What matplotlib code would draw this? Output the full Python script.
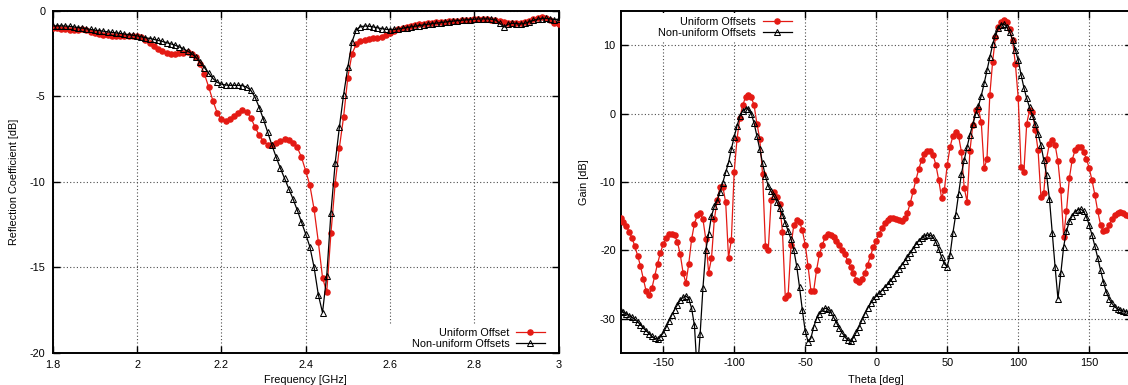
import numpy as np
import matplotlib
matplotlib.use('Agg')
import matplotlib.pyplot as plt
from matplotlib.patches import Rectangle

plt.rcParams['font.family'] = ['Liberation Sans', 'DejaVu Sans']
plt.rcParams['font.size'] = 7.8
plt.rcParams['axes.unicode_minus'] = False  # gnuplot 처럼 하이픈 마이너스

# 반사계수 데이터 (1.8 ~ 3.0 GHz, 0.01 간격)
freq = np.round(np.arange(1.80, 3.0001, 0.01), 2)
s11_uniform = [
    -1.00, -1.02, -1.05, -1.07, -1.10, -1.12, -1.10, -1.08, -1.12, -1.20,
    -1.28, -1.35, -1.40, -1.43, -1.45, -1.46, -1.46, -1.46, -1.45, -1.45,
    -1.47, -1.55, -1.68, -1.85, -2.03, -2.20, -2.34, -2.44, -2.49, -2.50,
    -2.48, -2.44, -2.42, -2.50, -2.72, -3.10, -3.70, -4.45, -5.25, -5.95,
    -6.35, -6.45, -6.35, -6.15, -5.95, -5.82, -5.90, -6.25, -6.80, -7.28,
    -7.62, -7.82, -7.85, -7.75, -7.60, -7.50, -7.55, -7.70, -7.98, -8.55,
    -9.35, -10.20, -11.60, -13.50, -15.60, -16.45, -13.00, -10.10, -8.00, -6.20,
    -3.90, -2.50, -1.95, -1.78, -1.70, -1.65, -1.60, -1.56, -1.50, -1.40,
    -1.28, -1.17, -1.08, -1.00, -0.94, -0.89, -0.84, -0.79, -0.75, -0.72,
    -0.69, -0.66, -0.64, -0.62, -0.60, -0.58, -0.56, -0.54, -0.52, -0.50,
    -0.48, -0.47, -0.47, -0.48, -0.50, -0.53, -0.58, -0.64, -0.68, -0.70,
    -0.72, -0.70, -0.64, -0.56, -0.48, -0.40, -0.37, -0.40, -0.52, -0.68,
    -0.76]
s11_nonuniform = [
    -0.88, -0.87, -0.87, -0.88, -0.90, -0.93, -0.97, -1.00, -1.04, -1.08,
    -1.12, -1.15, -1.18, -1.22, -1.25, -1.28, -1.31, -1.35, -1.38, -1.42,
    -1.46, -1.51, -1.56, -1.61, -1.66, -1.72, -1.78, -1.85, -1.92, -2.00,
    -2.10, -2.22, -2.35, -2.50, -2.72, -3.00, -3.32, -3.65, -3.95, -4.17,
    -4.28, -4.33, -4.35, -4.35, -4.35, -4.37, -4.45, -4.65, -5.05, -5.65,
    -6.35, -7.10, -7.85, -8.55, -9.20, -9.80, -10.40, -11.00, -11.65, -12.35,
    -13.05, -13.80, -15.00, -16.60, -17.65, -15.50, -11.80, -8.90, -6.80, -4.90,
    -3.30, -1.80, -1.10, -0.92, -0.88, -0.89, -0.93, -0.98, -1.03, -1.07,
    -1.09, -1.08, -1.05, -1.01, -0.97, -0.93, -0.89, -0.85, -0.81, -0.78,
    -0.74, -0.71, -0.68, -0.65, -0.62, -0.59, -0.56, -0.54, -0.52, -0.50,
    -0.48, -0.47, -0.46, -0.46, -0.48, -0.52, -0.70, -0.95, -0.78, -0.72,
    -0.74, -0.76, -0.72, -0.64, -0.55, -0.48, -0.44, -0.43, -0.46, -0.50,
    -0.48]

# 방사 패턴 데이터 (-180 ~ 180 deg, 2도 간격)
theta = np.arange(-180, 181, 2)
gain_uniform = [
    -15.3, -15.9, -16.5, -17.3, -18.2, -19.4, -20.8, -22.3, -24.2, -26.0,
    -26.6, -25.6, -23.8, -22.0, -20.4, -19.1, -18.2, -17.7, -17.6, -17.8,
    -18.8, -20.6, -23.3, -24.8, -22.0, -18.4, -16.1, -14.9, -14.6, -15.5,
    -18.4, -23.3, -21.2, -15.5, -12.7, -10.8, -10.7, -13.0, -21.1, -18.5,
    -8.5, -3.7, -0.6, 1.2, 2.4, 2.7, 2.4, 1.2, -1.5, -3.7,
    -8.9, -19.4, -19.9, -12.7, -11.5, -12.2, -13.3, -17.3, -27.0, -26.5,
    -19.3, -16.3, -15.6, -15.9, -17.1, -19.2, -22.3, -25.9, -25.9, -22.9,
    -20.6, -19.3, -18.1, -17.7, -17.8, -18.1, -18.6, -19.3, -20.0, -20.6,
    -21.6, -22.5, -23.4, -24.3, -24.6, -24.2, -23.3, -22.1, -20.8, -19.6,
    -18.6, -17.6, -16.8, -16.0, -15.6, -15.3, -15.3, -15.4, -15.6, -15.7,
    -15.3, -14.5, -13.1, -11.4, -9.7, -8.1, -6.8, -5.9, -5.5, -5.5,
    -6.0, -7.5, -9.7, -12.3, -11.2, -7.6, -4.9, -3.3, -2.7, -3.3,
    -5.6, -10.9, -12.9, -5.5, -1.7, 0.5, 0.7, -1.3, -8.0, -6.7,
    2.7, 7.6, 11.2, 12.7, 13.4, 13.7, 13.4, 12.4, 10.7, 7.3,
    2.3, -7.8, -8.5, -1.5, 0.5, 0.2, -2.4, -5.4, -12.2, -11.6,
    -6.6, -4.4, -3.9, -4.6, -7.0, -11.2, -18.0, -14.3, -9.5, -6.8,
    -5.4, -4.9, -4.9, -5.6, -6.6, -8.0, -9.8, -11.9, -14.3, -16.3,
    -17.2, -17.0, -16.3, -15.5, -14.9, -14.5, -14.4, -14.5, -14.8, -15.0,
    -15.2]
gain_nonuniform = [
    -28.9, -29.1, -29.3, -29.6, -29.8, -30.1, -30.5, -30.9, -31.4, -31.8,
    -32.2, -32.6, -32.9, -33.0, -32.7, -32.1, -31.3, -30.4, -29.5, -28.7,
    -28.0, -27.3, -26.9, -26.7, -27.1, -28.5, -31.0, -38.0, -32.3, -25.5,
    -20.0, -17.6, -15.0, -13.6, -12.8, -11.5, -10.1, -8.6, -7.2, -5.2,
    -3.4, -1.8, -0.4, 0.4, 0.7, 0.7, 0.0, -1.4, -3.3, -5.2,
    -7.3, -9.2, -10.6, -11.4, -12.1, -12.9, -13.8, -14.8, -16.0, -17.2,
    -18.4, -20.0, -22.3, -25.4, -28.8, -31.8, -33.4, -32.9, -31.2, -30.0,
    -29.3, -28.8, -28.5, -28.6, -29.1, -29.8, -30.6, -31.4, -32.1, -32.7,
    -33.2, -33.3, -32.8, -32.0, -31.2, -30.2, -29.3, -28.5, -27.8, -27.2,
    -26.7, -26.3, -25.9, -25.4, -25.0, -24.5, -24.0, -23.4, -22.8, -22.2,
    -21.6, -21.0, -20.4, -19.8, -19.1, -18.6, -18.2, -17.9, -17.8, -17.8,
    -18.1, -18.8, -19.8, -21.0, -22.0, -22.4, -20.7, -17.5, -14.8, -11.8,
    -8.8, -6.8, -4.9, -3.1, -1.6, -0.1, 1.1, 2.6, 4.4, 6.3,
    8.2, 10.1, 11.5, 12.5, 13.0, 13.1, 12.6, 11.9, 10.8, 9.3,
    7.8, 5.7, 3.8, 2.2, 0.9, -0.3, -1.5, -3.0, -4.6, -6.8,
    -9.0, -12.5, -17.5, -22.5, -27.1, -23.4, -19.5, -17.2, -15.8, -15.0,
    -14.4, -14.1, -14.0, -14.3, -15.1, -16.3, -17.8, -19.4, -21.1, -22.9,
    -24.6, -26.1, -27.1, -27.8, -28.3, -28.6, -28.8, -28.9, -29.0, -29.1,
    -29.2]

RED = '#e41a14'
W, H = 1128, 385


def style_axes(ax, pad):
    # gnuplot 스타일: 안쪽 눈금, 점선 그리드, 굵은 테두리
    ax.set_axisbelow(True)
    ax.grid(True, color='0.3', linestyle=(0, (1, 2)), linewidth=0.8)
    ax.tick_params(direction='in', length=5, width=1, top=True, right=True,
                   pad=pad, labelsize=7.8, colors='black')
    for sp in ax.spines.values():
        sp.set_linewidth(1.4)


fig = plt.figure(figsize=(W / 100, H / 100), dpi=100)

# 1. 반사계수 그래프
ax1 = fig.add_axes([52.7 / W, 32.3 / H, 505.9 / W, 341.7 / H])
style_axes(ax1, 5.2)
ax1.add_patch(Rectangle((385 / W, 14 / H), 165 / W, 47 / H, transform=fig.transFigure,
                        facecolor='white', edgecolor='none', zorder=1))
ax1.plot(freq, s11_uniform, color=RED, lw=0.9, marker='o', ms=3.7, mec=RED, mfc=RED,
         label='Uniform Offset', zorder=3)
ax1.plot(freq, s11_nonuniform, color='black', lw=0.9, marker='^', ms=4.2, mfc='none',
         mec='black', mew=0.75, label='Non-uniform Offsets', zorder=4)
ax1.set_xlim(1.8, 3.0)
ax1.set_ylim(-20, 0)
ax1.set_xticks([1.8, 2.0, 2.2, 2.4, 2.6, 2.8, 3.0])
ax1.set_xticklabels(['1.8', '2', '2.2', '2.4', '2.6', '2.8', '3'])
ax1.set_yticks([0, -5, -10, -15, -20])
ax1.set_yticklabels(['0', '-5', '-10', '-15', '-20'])
ax1.set_xlabel('Frequency [GHz]')
ax1.set_ylabel('Reflection Coefficient [dB]')
ax1.xaxis.set_label_coords(0.5, -0.064)
ax1.yaxis.set_label_coords(-0.067, 0.5)
ax1.legend(loc='upper right', bbox_to_anchor=(545 / W, 1 - 328 / H),
           bbox_transform=fig.transFigure, frameon=False, markerfirst=False,
           handlelength=2.7, handletextpad=0.6, labelspacing=0.05,
           borderpad=0, borderaxespad=0, fontsize=7.8)

# 2. 방사 패턴 그래프
ax2 = fig.add_axes([620.6 / W, 32.3 / H, 511.2 / W, 341.7 / H])
style_axes(ax2, 3.5)
ax2.add_patch(Rectangle((640 / W, 1 - 42 / H), 160 / W, 29 / H, transform=fig.transFigure,
                        facecolor='white', edgecolor='none', zorder=1))
ax2.plot(theta, gain_uniform, color=RED, lw=0.9, marker='o', ms=3.7, mec=RED, mfc=RED,
         label='Uniform Offsets', zorder=3)
ax2.plot(theta, gain_nonuniform, color='black', lw=0.9, marker='^', ms=4.2, mfc='none',
         mec='black', mew=0.75, label='Non-uniform Offsets', zorder=4)
ax2.set_xlim(-180, 180)
ax2.set_ylim(-35, 15)
ax2.set_xticks([-150, -100, -50, 0, 50, 100, 150])
ax2.set_yticks([-30, -20, -10, 0, 10])
ax2.set_xlabel('Theta [deg]')
ax2.set_ylabel('Gain [dB]')
ax2.xaxis.set_label_coords(0.5, -0.064)
ax2.yaxis.set_label_coords(-0.062, 0.5)
ax2.legend(loc='upper right', bbox_to_anchor=(792 / W, 1 - 17 / H),
           bbox_transform=fig.transFigure, frameon=False, markerfirst=False,
           handlelength=2.7, handletextpad=0.6, labelspacing=0.05,
           borderpad=0, borderaxespad=0, fontsize=7.8)

fig.savefig('out.png', dpi=100)
